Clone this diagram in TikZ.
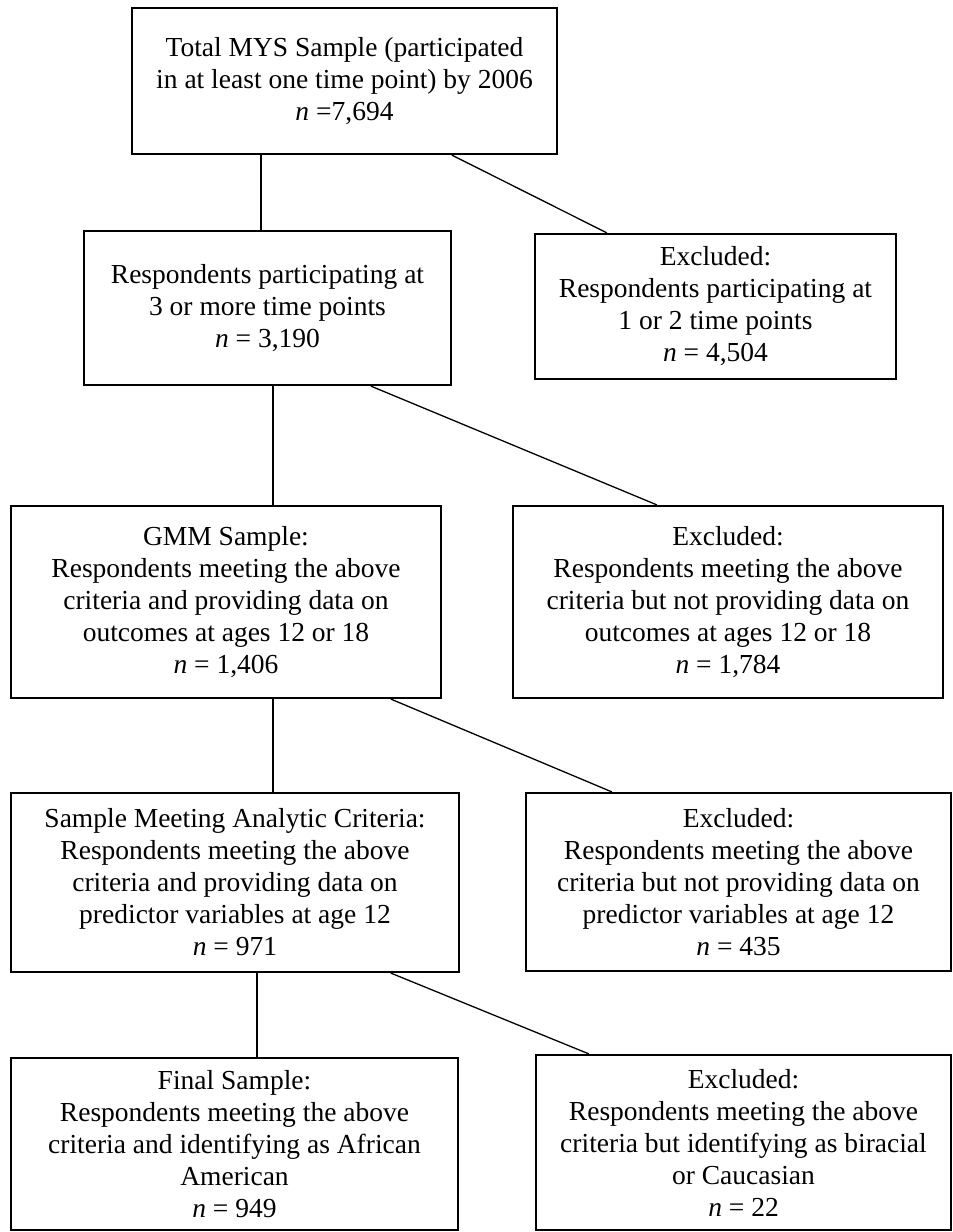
\documentclass[tikz,border=0pt]{standalone}
\usepackage{fontspec}
\setmainfont{Liberation Serif}
\begin{document}
\begin{tikzpicture}[x=1pt,y=-1pt,
  box/.style={draw=black, line width=2.2pt, rectangle, inner sep=0pt, align=center,
    font=\fontsize{27.5pt}{32pt}\selectfont},
  link/.style={draw=black, line width=1.3pt}]
\fill[white] (0,0) rectangle (953,1232);
\useasboundingbox (0,0) rectangle (953,1232);

\node[box, minimum width=425pt, minimum height=146pt] (b1) at (344.5,81)
  {Total MYS Sample (participated\\in at least one time point) by 2006\\\textit{n} =7,694};
\node[box, minimum width=367pt, minimum height=154pt] (b2) at (267.5,308)
  {Respondents participating at\\3 or more time points\\\textit{n} = 3,190};
\node[box, minimum width=361pt, minimum height=145pt] (e1) at (715.5,306.5)
  {Excluded:\\Respondents participating at\\1 or 2 time points\\\textit{n} = 4,504};
\node[box, minimum width=430pt, minimum height=192pt] (b3) at (226,602)
  {GMM Sample:\\Respondents meeting the above\\criteria and providing data on\\outcomes at ages 12 or 18\\\textit{n} = 1,406};
\node[box, minimum width=430pt, minimum height=192pt] (e2) at (728,602)
  {Excluded:\\Respondents meeting the above\\criteria but not providing data on\\outcomes at ages 12 or 18\\\textit{n} = 1,784};
\node[box, minimum width=448pt, minimum height=179pt] (b4) at (235,882.5)
  {Sample Meeting Analytic Criteria:\\Respondents meeting the above\\criteria and providing data on\\predictor variables at age 12\\\textit{n} = 971};
\node[box, minimum width=425pt, minimum height=178pt] (e3) at (738.5,882)
  {Excluded:\\Respondents meeting the above\\criteria but not providing data on\\predictor variables at age 12\\\textit{n} = 435};
\node[box, minimum width=447pt, minimum height=172pt] (b5) at (234.5,1144)
  {Final Sample:\\Respondents meeting the above\\criteria and identifying as African\\American\\\textit{n} = 949};
\node[box, minimum width=415pt, minimum height=175pt] (e4) at (743.5,1142.5)
  {Excluded:\\Respondents meeting the above\\criteria but identifying as biracial\\or Caucasian\\\textit{n} = 22};

\draw[link] ([xshift=130pt]b1.south west) -- ([xshift=178pt]b2.north west);
\draw[link] ([xshift=321pt]b1.south west) -- ([xshift=73pt]e1.north west);
\draw[link] ([xshift=190pt]b2.south west) -- ([xshift=263pt]b3.north west);
\draw[link] ([xshift=288pt]b2.south west) -- ([xshift=145pt]e2.north west);
\draw[link] ([xshift=263pt]b3.south west) -- ([xshift=263pt]b4.north west);
\draw[link] ([xshift=381pt]b3.south west) -- ([xshift=87pt]e3.north west);
\draw[link] ([xshift=247pt]b4.south west) -- ([xshift=247pt]b5.north west);
\draw[link] ([xshift=381pt]b4.south west) -- ([xshift=54pt]e4.north west);
\end{tikzpicture}
\end{document}
